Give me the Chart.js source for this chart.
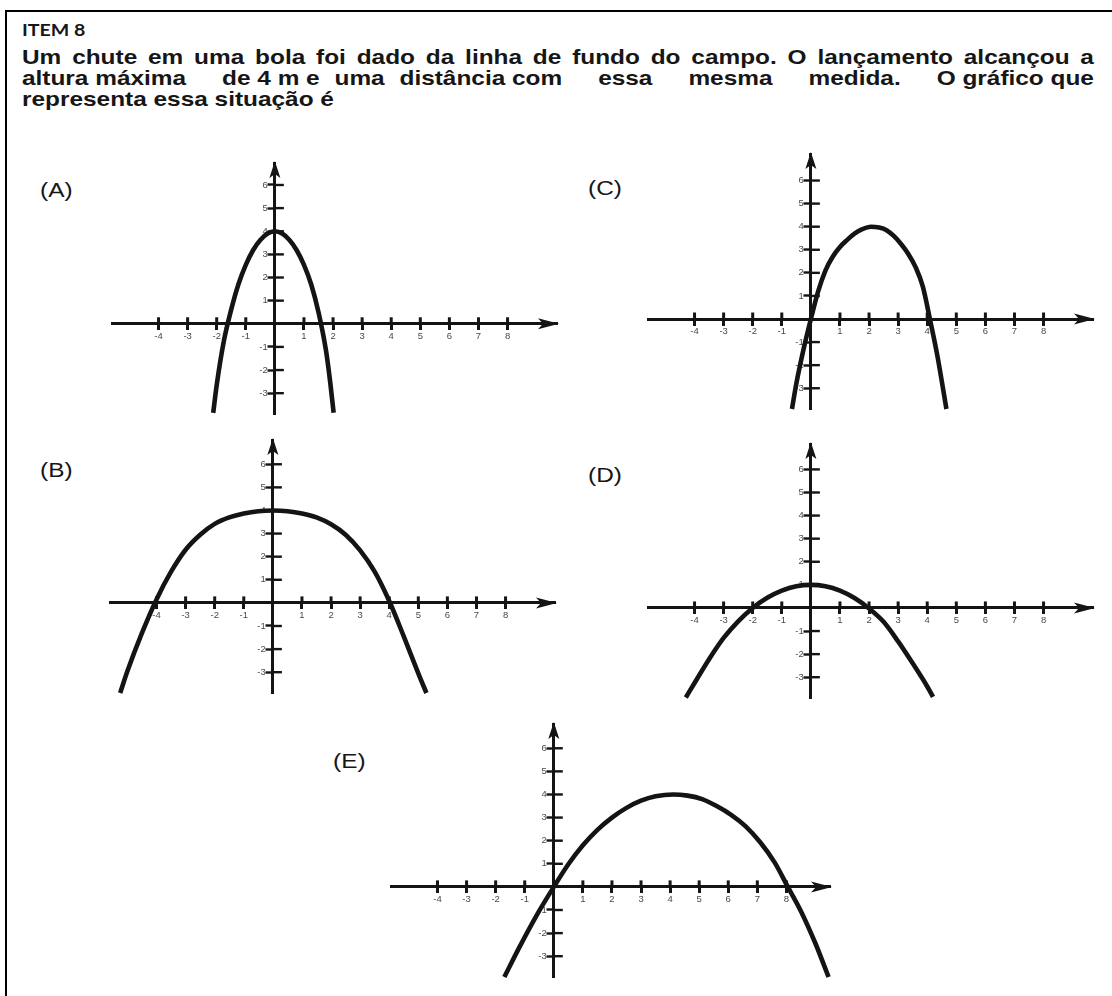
<!DOCTYPE html>
<html>
<head>
<meta charset="utf-8">
<script src="https://cdn.jsdelivr.net/npm/chart.js@4.4.1/dist/chart.umd.min.js"></script>
<style>
html,body{margin:0;padding:0;background:#fff;}
body{width:1112px;height:996px;position:relative;overflow:hidden;font-family:"Liberation Sans",Arial,sans-serif;color:#161616;}
.frame{position:absolute;left:5px;top:10px;width:1300px;height:1200px;border-top:2.5px solid #000;border-left:2.5px solid #000;}
.t{position:absolute;white-space:nowrap;transform-origin:0 0;}
.item{font-family:Lato,"Open Sans",sans-serif;font-weight:700;font-size:17px;line-height:17px;transform:scaleX(1.15);}
.q{font-weight:700;font-size:20.5px;line-height:20.5px;transform:scaleX(1.19);}
.l1{text-align:justify;text-align-last:justify;white-space:normal;}
.l2{display:flex;}
.l2 i{display:block;flex-basis:0;}
.lbl{font-size:20px;line-height:20px;transform:scaleX(1.22);}
.panel{position:absolute;}
</style>
</head>
<body>
<div class="frame"></div>
<div class="t item" style="left:22px;top:21px;">ITEM 8</div>
<div class="t q l1" style="left:22px;top:46.6px;width:900.8px;">Um chute em uma bola foi dado da linha de fundo do campo. O lançamento alcançou a</div>
<div class="t q l2" style="left:22px;top:67.6px;width:900.8px;"><span>altura máxima</span><i style="flex-grow:34"></i><span>de 4 m e</span><i style="flex-grow:14"></i><span>uma</span><i style="flex-grow:14"></i><span>distância com</span><i style="flex-grow:34"></i><span>essa</span><i style="flex-grow:34"></i><span>mesma</span><i style="flex-grow:34"></i><span>medida.</span><i style="flex-grow:34"></i><span>O gráfico que</span></div>
<div class="t q" style="left:22px;top:88.6px;">representa essa situação é</div>

<div class="t lbl" style="left:40px;top:180px;">(A)</div>
<div class="t lbl" style="left:588px;top:178px;">(C)</div>
<div class="t lbl" style="left:40px;top:460px;">(B)</div>
<div class="t lbl" style="left:588px;top:465px;">(D)</div>
<div class="t lbl" style="left:333px;top:751px;">(E)</div>

<script>
// ---- axis ticks ----
const xTickValues = [-4, -3, -2, -1, 1, 2, 3, 4, 5, 6, 7, 8];
const xTickLabels = ['-4', '-3', '-2', '-1', '1', '2', '3', '4', '5', '6', '7', '8'];
const yTickValues = [-3, -2, -1, 1, 2, 3, 4, 5, 6];
const yTickLabels = ['-3', '-2', '-1', '1', '2', '3', '4', '5', '6'];

// ---- curves (x, y in axis units) ----
const curveAX = [-2.12, -2.0, -1.75, -1.5, -1.25, -1.0, -0.75, -0.5, -0.25, 0, 0.25, 0.5, 0.75, 1.0, 1.25, 1.5, 1.75, 1.9, 2.02];
const curveAY = [-3.85, -2.65, -0.72, 0.62, 1.72, 2.55, 3.18, 3.62, 3.9, 4.0, 3.9, 3.62, 3.18, 2.55, 1.7, 0.5, -1.1, -2.5, -3.85];

const curveBX = [-5.25, -5.0, -4.5, -4.0, -3.5, -3.0, -2.5, -2.0, -1.5, -1.0, -0.5, 0, 0.5, 1.0, 1.5, 2.0, 2.5, 3.0, 3.5, 4.0, 4.5, 5.0, 5.28];
const curveBY = [-3.9, -2.95, -1.3, 0.15, 1.35, 2.3, 2.95, 3.42, 3.7, 3.87, 3.97, 4.0, 3.97, 3.87, 3.7, 3.4, 2.95, 2.27, 1.35, 0.08, -1.45, -3.05, -3.9];

const curveCX = [-0.65, -0.5, -0.25, 0, 0.25, 0.5, 0.75, 1.0, 1.25, 1.5, 1.75, 2.07, 2.35, 2.6, 2.85, 3.1, 3.35, 3.6, 3.85, 4.1, 4.35, 4.66];
const curveCY = [-3.9, -2.8, -1.3, 0, 1.2, 2.1, 2.7, 3.12, 3.43, 3.7, 3.88, 4.0, 3.96, 3.85, 3.6, 3.25, 2.82, 2.25, 1.4, -0.05, -1.6, -3.9];

const curveDX = [-4.3, -4.0, -3.5, -3.0, -2.5, -2.0, -1.5, -1.0, -0.5, 0, 0.5, 1.0, 1.5, 2.0, 2.5, 3.0, 3.5, 4.0, 4.2];
const curveDY = [-3.88, -3.25, -2.22, -1.3, -0.58, 0.0, 0.44, 0.75, 0.94, 1.0, 0.94, 0.75, 0.43, -0.02, -0.6, -1.45, -2.4, -3.4, -3.85];

const curveEX = [-1.7, -1.2, -0.6, 0, 0.5, 1.0, 1.5, 2.0, 2.5, 3.0, 3.5, 4.1, 4.6, 5.1, 5.6, 6.1, 6.6, 7.1, 7.6, 8.05, 8.5, 9.0, 9.45];
const curveEY = [-3.9, -2.65, -1.25, 0, 0.98, 1.8, 2.47, 3.0, 3.42, 3.73, 3.92, 4.0, 3.95, 3.8, 3.5, 3.12, 2.62, 1.93, 1.05, 0, -1.05, -2.45, -3.9];

// ---- axis ranges ----
const X_MIN = -5.6, X_MAX = 9.7, Y_MIN = -3.9;

// ---- layout (positions / sizes / styles) ----
const INK = '#141414';
const UX = 29.1, UY = 23.1, PAD = 14;
const panels = [
  { xs: curveAX, ys: curveAY, ox: 275,   oy: 323.3, yMax: 6.95, xMax: X_MAX },
  { xs: curveCX, ys: curveCY, ox: 811,   oy: 319,   yMax: 7.15, xMax: X_MAX },
  { xs: curveBX, ys: curveBY, ox: 272.5, oy: 603.3, yMax: 7.05, xMax: X_MAX },
  { xs: curveDX, ys: curveDY, ox: 811,   oy: 608.3, yMax: 7.1,  xMax: X_MAX },
  { xs: curveEX, ys: curveEY, ox: 554,   oy: 887,   yMax: 7.05, xMax: 9.5 }
];

const axisExtras = {
  id: 'axisExtras',
  beforeDatasetsDraw(chart) {
    const { ctx, scales: { x, y } } = chart;
    const x0 = x.getPixelForValue(0), y0 = y.getPixelForValue(0);
    ctx.save();
    ctx.strokeStyle = INK;
    ctx.lineWidth = 3;
    x.ticks.forEach(t => {
      const px = x.getPixelForValue(t.value);
      ctx.beginPath(); ctx.moveTo(px, y0 - 6.5); ctx.lineTo(px, y0); ctx.stroke();
    });
    ctx.lineWidth = 2.4;
    y.ticks.forEach(t => {
      const py = y.getPixelForValue(t.value);
      ctx.beginPath(); ctx.moveTo(x0, py); ctx.lineTo(x0 + 9, py); ctx.stroke();
    });
    const xt = x.getPixelForValue(x.max) + 2;
    const yt = y.getPixelForValue(y.max) - 2;
    ctx.fillStyle = INK;
    ctx.beginPath();
    ctx.moveTo(xt, y0); ctx.lineTo(xt - 21, y0 - 5.5); ctx.lineTo(xt - 16, y0); ctx.lineTo(xt - 21, y0 + 5.5);
    ctx.closePath(); ctx.fill();
    ctx.beginPath();
    ctx.moveTo(x0, yt); ctx.lineTo(x0 - 5.5, yt + 17); ctx.lineTo(x0, yt + 13); ctx.lineTo(x0 + 5.5, yt + 17);
    ctx.closePath(); ctx.fill();
    ctx.restore();
  }
};

panels.forEach((p) => {
  const w = (p.xMax - X_MIN) * UX + 2 * PAD;
  const h = (p.yMax - Y_MIN) * UY + 2 * PAD;
  const div = document.createElement('div');
  div.className = 'panel';
  div.style.left = (p.ox + X_MIN * UX - PAD) + 'px';
  div.style.top = (p.oy - p.yMax * UY - PAD) + 'px';
  div.style.width = w + 'px';
  div.style.height = h + 'px';
  const cv = document.createElement('canvas');
  cv.width = Math.round(w); cv.height = Math.round(h);
  div.appendChild(cv);
  document.body.appendChild(div);

  new Chart(cv, {
    type: 'scatter',
    data: {
      datasets: [{
        data: p.xs.map((v, i) => ({ x: v, y: p.ys[i] })),
        showLine: true,
        borderColor: INK,
        borderWidth: 4.6,
        pointRadius: 0,
        cubicInterpolationMode: 'monotone',
        clip: false
      }]
    },
    options: {
      responsive: false,
      animation: false,
      events: [],
      layout: { padding: PAD },
      plugins: { legend: { display: false }, tooltip: { enabled: false } },
      scales: {
        x: {
          type: 'linear', min: X_MIN, max: p.xMax, bounds: 'data',
          position: { y: 0 },
          afterBuildTicks: s => { s.ticks = xTickValues.map(v => ({ value: v })); },
          ticks: {
            autoSkip: false, maxRotation: 0, padding: 2,
            callback: (v, i) => xTickLabels[i],
            font: { family: 'Liberation Sans', size: 9.5 }, color: '#4a4a4a'
          },
          grid: { drawOnChartArea: false, drawTicks: true, tickLength: 5, tickWidth: 3, tickColor: INK },
          border: { display: true, width: 3, color: INK }
        },
        y: {
          type: 'linear', min: Y_MIN, max: p.yMax, bounds: 'data',
          position: { x: 0 },
          afterBuildTicks: s => { s.ticks = yTickValues.map(v => ({ value: v })); },
          ticks: {
            autoSkip: false, padding: 0,
            callback: (v, i) => yTickLabels[i] + '\u2002\u2005',
            font: { family: 'Liberation Sans', size: 9.5 }, color: '#4a4a4a'
          },
          grid: { drawOnChartArea: false, drawTicks: true, tickLength: 5.5, tickWidth: 2.4, tickColor: INK },
          border: { display: true, width: 3, color: INK }
        }
      }
    },
    plugins: [axisExtras]
  });
});
</script>
</body>
</html>
